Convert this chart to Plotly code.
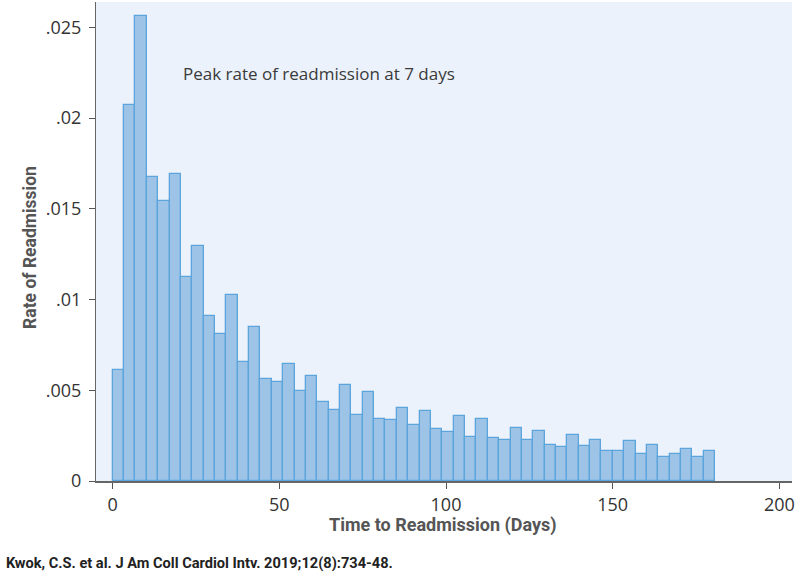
import plotly.graph_objects as go

# Histogram bins (days) and readmission rates
bin_start = 0.0
bin_width = 3.41
rates = [
    0.00614, 0.02072, 0.02563, 0.01678, 0.01544, 0.01691, 0.01122, 0.01296,
    0.00910, 0.00809, 0.01025, 0.00655, 0.00849, 0.00560, 0.00547, 0.00647,
    0.00495, 0.00581, 0.00437, 0.00389, 0.00528, 0.00363, 0.00492, 0.00341,
    0.00336, 0.00404, 0.00308, 0.00385, 0.00286, 0.00268, 0.00356, 0.00244,
    0.00339, 0.00239, 0.00228, 0.00290, 0.00228, 0.00277, 0.00196, 0.00187,
    0.00253, 0.00193, 0.00228, 0.00165, 0.00165, 0.00218, 0.00147, 0.00198,
    0.00132, 0.00149, 0.00178, 0.00132, 0.00167,
]
bin_left = [bin_start + i * bin_width for i in range(len(rates))]

x_ticks = [0, 50, 100, 150, 200]
y_ticks = [0, 0.005, 0.01, 0.015, 0.02, 0.025]
y_tick_labels = ["0", ".005", ".01", ".015", ".02", ".025"]

fig = go.Figure()
fig.add_trace(go.Bar(
    x=bin_left, y=rates, width=bin_width, offset=0,
    marker=dict(color="#9DC3E6", line=dict(color="#5BA4DC", width=1.3)),
    hoverinfo="skip",
))

fig.add_annotation(
    x=20.5, y=0.02248, xref="x", yref="y", xanchor="left", yanchor="middle",
    text="Peak rate of readmission at 7 days", showarrow=False,
    font=dict(family="Open Sans", size=17, color="#3a3a3a"),
)
fig.add_annotation(
    x=-0.132, y=-0.171, xref="paper", yref="paper", xanchor="left", yanchor="middle",
    text="<b>Kwok, C.S. et al. J Am Coll Cardiol Intv. 2019;12(8):734-48.</b>",
    showarrow=False, font=dict(family="Roboto", size=14.6, color="#222222"),
)
fig.add_annotation(
    x=0.499, y=-0.092, xref="paper", yref="paper", xanchor="center", yanchor="middle",
    text="<b>Time to Readmission (Days)</b>", showarrow=False,
    font=dict(family="Roboto", size=18, color="#555555"),
)
fig.add_annotation(
    x=-0.095, y=0.4885, xref="paper", yref="paper", xanchor="center", yanchor="middle",
    text="<b>Rate of Readmission</b>", showarrow=False, textangle=-90,
    font=dict(family="Roboto", size=17.5, color="#555555"),
)

fig.update_layout(
    width=800, height=573,
    margin=dict(l=96, r=8, t=2, b=92, autoexpand=False),
    paper_bgcolor="white", plot_bgcolor="#EBF2FB",
    showlegend=False, bargap=0,
    font=dict(family="Open Sans", color="#333333"),
)
fig.update_xaxes(
    range=[-5, 203.8], tickvals=x_ticks, ticks="outside", ticklen=6,
    tickcolor="#555555", tickfont=dict(size=18, color="#333333"),
    showgrid=False, zeroline=False, showline=True, linecolor="#666666", linewidth=2,
    automargin=False,
)
fig.update_yaxes(
    range=[0, 0.0264], tickvals=y_ticks, ticktext=y_tick_labels, ticks="outside",
    ticklen=6, tickcolor="#555555", tickfont=dict(size=18, color="#333333"),
    ticklabelstandoff=4,
    showgrid=False, zeroline=False, showline=True, linecolor="#666666", linewidth=1,
    automargin=False,
)

fig.write_html(
    "out.html",
    config={"displayModeBar": False},
    post_script="document.body.style.margin='0';document.body.style.overflow='hidden';",
)
